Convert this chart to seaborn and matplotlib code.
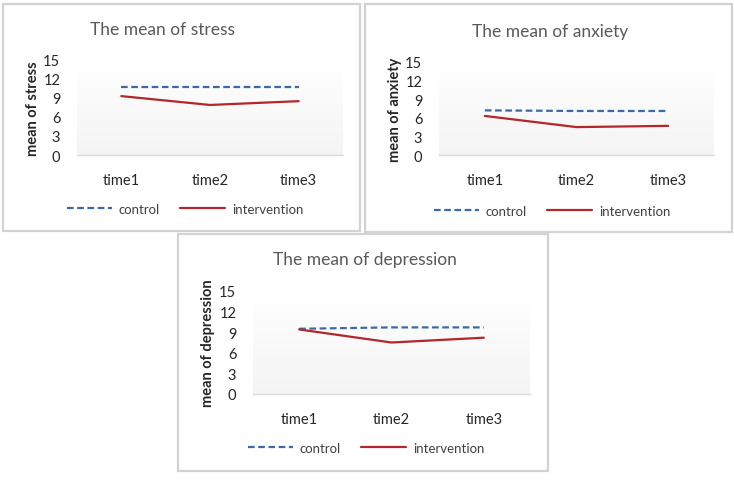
import matplotlib
matplotlib.use('Agg')
from matplotlib import pyplot as plt
from matplotlib.patches import Rectangle
from matplotlib.lines import Line2D
import numpy as np
import pandas as pd
import seaborn as sns

times = ['time1', 'time2', 'time3']
groups = ['control', 'intervention']

stress_control = [10.7, 10.7, 10.7]
stress_intervention = [9.3, 7.9, 8.5]
anxiety_control = [7.2, 7.1, 7.1]
anxiety_intervention = [6.3, 4.5, 4.7]
depression_control = [9.5, 9.7, 9.7]
depression_intervention = [9.4, 7.5, 8.2]

y_ticks = [0, 3, 6, 9, 12, 15]

W, H = 734, 481
BLUE = '#3a6aa8'
RED = '#b3262a'

sns.set_style('white')
plt.rcParams['font.family'] = ['Lato', 'DejaVu Sans']


def fig_rect(x0, y0, x1, y1):
    # pixel box (top-left origin) -> figure fraction
    return [x0 / W, 1 - y1 / H, (x1 - x0) / W, (y1 - y0) / H]


def draw_panel(fig, box, area, title, title_pos, ylabel, ylabel_x, legend_pos, control, intervention):
    bx0, by0, bx1, by1 = box
    fig.patches.append(Rectangle((bx0 / W, 1 - by1 / H), (bx1 - bx0) / W, (by1 - by0) / H,
                                 transform=fig.transFigure, facecolor='white',
                                 edgecolor='#d2d2d2', linewidth=1.6, zorder=-1))
    ax = fig.add_axes(fig_rect(*area))
    ax.set_zorder(2)
    ax.patch.set_alpha(0)

    df = pd.DataFrame({
        'time': times * 2,
        'value': control + intervention,
        'group': [groups[0]] * 3 + [groups[1]] * 3,
    })
    sns.lineplot(data=df, x='time', y='value', hue='group', style='group',
                 palette={'control': BLUE, 'intervention': RED},
                 dashes={'control': (3, 1.6), 'intervention': ''},
                 linewidth=1.6, sort=False, legend=False, ax=ax, zorder=3)

    # plot area shading: white at top, light grey at the bottom
    grad = np.linspace(0, 1, 100).reshape(-1, 1)
    ax.imshow(grad, extent=[-0.5, 2.5, 0, 15], aspect='auto', cmap='Greys',
              vmin=0, vmax=11, zorder=0)

    ax.set_xlim(-0.5, 2.5)
    ax.set_ylim(0, 15)
    ax.set_yticks(y_ticks)
    ax.set_xlabel('')
    ax.set_ylabel('')
    for s in ['top', 'right', 'left']:
        ax.spines[s].set_visible(False)
    ax.spines['bottom'].set_color('#d9d9d9')
    ax.spines['bottom'].set_linewidth(1.0)
    ax.tick_params(axis='both', length=0, labelsize=10.5, colors='#262626')
    ax.tick_params(axis='x', pad=13)
    ax.tick_params(axis='y', pad=12)
    for lab in ax.get_xticklabels():
        lab.set_fontsize(10.5)

    fig.text(title_pos[0] / W, 1 - title_pos[1] / H, title, ha='center', va='center',
             fontsize=12.5, color='#595959')
    yc = (area[1] + area[3]) / 2
    fig.text(ylabel_x / W, 1 - yc / H, ylabel, rotation=90, ha='center', va='center',
             fontsize=10.5, fontweight='bold', color='#262626')

    handles = [Line2D([], [], color=BLUE, lw=1.6, dashes=(3, 1.6)),
               Line2D([], [], color=RED, lw=1.6)]
    fig.legend(handles, groups, loc='center', ncol=2, frameon=False,
               bbox_to_anchor=(legend_pos[0] / W, 1 - legend_pos[1] / H),
               fontsize=9.5, handlelength=3.4, handletextpad=0.5,
               columnspacing=1.6, labelcolor='#404040')


fig = plt.figure(figsize=(W / 100, H / 100), dpi=100)

draw_panel(fig, (3, 5, 360, 232), (77, 61, 343, 156),
           'The mean of stress', (163, 30), 'mean of stress', 33, (185, 210),
           stress_control, stress_intervention)
draw_panel(fig, (365, 5, 732, 233), (439, 63, 714, 156),
           'The mean of anxiety', (550, 32), 'mean of anxiety', 395, (552, 212),
           anxiety_control, anxiety_intervention)
draw_panel(fig, (178, 235, 548, 472), (253, 292, 530, 395),
           'The mean of depression', (365, 260), 'mean of depression', 208, (366, 449),
           depression_control, depression_intervention)

fig.savefig('out.png', dpi=100)
